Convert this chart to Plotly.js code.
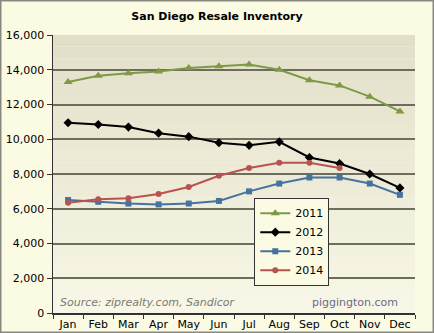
<!DOCTYPE html>
<html><head><meta charset="utf-8">
<script src="https://cdn.plot.ly/plotly-3.0.1.min.js"></script>
<style>html,body{margin:0;padding:0;background:#fbfae3;}#chart{width:434px;height:333px;}</style>
</head><body><div id="chart"></div>
<script>
const months = ['Jan','Feb','Mar','Apr','May','Jun','Jul','Aug','Sep','Oct','Nov','Dec'];
const y2011 = [13300,13650,13800,13900,14100,14200,14300,14000,13400,13100,12450,11600];
const y2012 = [10950,10850,10700,10350,10150,9800,9650,9850,8950,8600,8000,7200];
const y2013 = [6500,6400,6300,6250,6300,6450,7000,7450,7800,7800,7450,6800];
const y2014 = [6350,6550,6600,6850,7250,7900,8350,8650,8650,8350];
const yTicks = [0,2000,4000,6000,8000,10000,12000,14000,16000];

function mk(name, y, color, symbol, size){
  return {type:'scatter', mode:'lines+markers', name:name, x:months.slice(0,y.length), y:y,
    line:{color:color, width:2}, marker:{color:color, symbol:symbol, size:size}};
}
const traces = [
  mk('2011', y2011, '#7d9a45', 'triangle-up', 8),
  mk('2012', y2012, '#000000', 'diamond', 7),
  mk('2013', y2013, '#45729f', 'square', 6),
  mk('2014', y2014, '#b9534f', 'circle', 6)
];

const shapes = [];
const N = 24;
for (let i=0;i<N;i++){
  const t = i/(N-1);
  const c0=[0xe2,0xdf,0xc9], c1=[0xf8,0xf6,0xe6];
  const c = c0.map((v,k)=>Math.round(v+(c1[k]-v)*t));
  shapes.push({type:'rect', xref:'paper', yref:'paper', x0:0, x1:1,
    y0:1-(i+1)/N, y1:1-i/N, fillcolor:'rgb('+c.join(',')+')', line:{width:0}, layer:'below'});
}
shapes.push({type:'rect', xref:'paper', yref:'paper', x0:-53/362, x1:1+19/362, y0:-20/278, y1:1+35/278,
  line:{color:'#8a897f', width:3}, fillcolor:'rgba(0,0,0,0)', layer:'above'});

const layout = {
  width:434, height:333,
  margin:{l:53, r:19, t:35, b:20},
  paper_bgcolor:'#fbfae3', plot_bgcolor:'rgba(0,0,0,0)',
  font:{family:'DejaVu Sans, Verdana, sans-serif', size:11, color:'#000'},
  title:{text:'<b>San Diego Resale Inventory</b>', x:0.5, xanchor:'center', y:1-16/333, yanchor:'middle',
    font:{family:'DejaVu Sans, Verdana, sans-serif', size:11, color:'#000'}},
  showlegend:true,
  legend:{x:0.556, xanchor:'left', y:0.415, yanchor:'top', bgcolor:'#fbfae3', bordercolor:'#333', borderwidth:1,
    font:{size:11}, tracegroupgap:0, itemwidth:30},
  xaxis:{type:'category', categoryorder:'array', categoryarray:months, range:[-0.5,11.5],
    showgrid:false, showline:true, linecolor:'#333', linewidth:1.5, ticks:'outside', ticklen:4,
    tickcolor:'#333', tickson:'boundaries', tickangle:0, automargin:false, fixedrange:true, zeroline:false},
  yaxis:{range:[0,16000], tickvals:yTicks, ticktext:yTicks.map(v=>v.toLocaleString('en-US')),
    showgrid:true, gridcolor:'#6e6d5c', gridwidth:2, showline:true, linecolor:'#333', linewidth:1.5,
    ticks:'outside', ticklen:5, tickcolor:'#333', zeroline:false, fixedrange:true, automargin:false},
  shapes:shapes,
  annotations:[
    {text:'<i>Source: ziprealty.com, Sandicor</i>', xref:'paper', yref:'paper', x:5/362, y:11/278,
     xanchor:'left', yanchor:'middle', showarrow:false, font:{size:11, color:'#7a7a72'}},
    {text:'piggington.com', xref:'paper', yref:'paper', x:(400-53)/362, y:11/278,
     xanchor:'right', yanchor:'middle', showarrow:false, font:{size:11, color:'#6c6a86'}}
  ]
};
Plotly.newPlot('chart', traces, layout, {displayModeBar:false, staticPlot:true});
</script></body></html>
